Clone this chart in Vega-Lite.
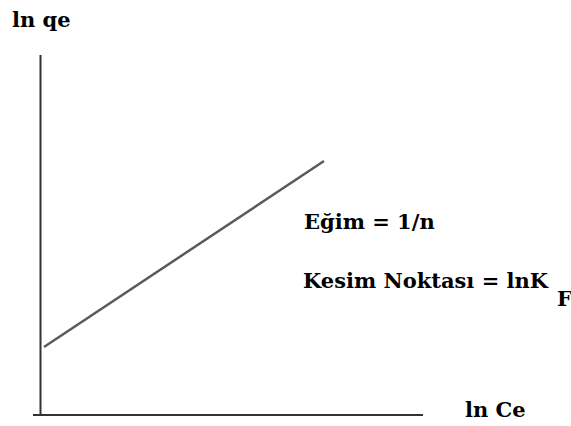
{
  "$schema": "https://vega.github.io/schema/vega-lite/v6.json",
  "width": 571,
  "height": 426,
  "autosize": {"type": "none"},
  "padding": 0,
  "background": "#ffffff",
  "config": {"view": {"stroke": null}},
  "datasets": {
    "segments": [
      {"part": "y axis", "x": 0.01, "y": 0, "x2": 0.01, "y2": 7.2, "color": "#333333", "width": 2},
      {"part": "x axis", "x": -0.14, "y": 0, "x2": 7.66, "y2": 0, "color": "#333333", "width": 2},
      {"part": "fit", "x": 0.08, "y": 1.36, "x2": 5.68, "y2": 5.08, "color": "#5a5a5a", "width": 2.5}
    ],
    "labels": [
      {"text": "ln qe", "x": -0.56, "y": 7.76},
      {"text": "Eğim = 1/n", "x": 5.28, "y": 3.72},
      {"text": "Kesim Noktası = lnK", "x": 5.26, "y": 2.54},
      {"text": "F", "x": 10.34, "y": 2.18},
      {"text": "ln Ce", "x": 8.5, "y": -0.04}
    ]
  },
  "layer": [
    {
      "data": {"name": "segments"},
      "mark": {"type": "rule", "strokeCap": "butt"},
      "encoding": {
        "x": {"field": "x", "type": "quantitative", "scale": {"domain": [-0.8, 10.62], "nice": false, "zero": false}, "axis": null},
        "x2": {"field": "x2"},
        "y": {"field": "y", "type": "quantitative", "scale": {"domain": [-0.22, 8.3], "nice": false, "zero": false}, "axis": null},
        "y2": {"field": "y2"},
        "color": {"field": "color", "type": "nominal", "scale": null, "legend": null},
        "strokeWidth": {"field": "width", "type": "quantitative", "scale": null, "legend": null}
      }
    },
    {
      "data": {"name": "labels"},
      "mark": {"type": "text", "align": "left", "baseline": "alphabetic", "font": "DejaVu Serif", "fontWeight": "bold", "fontSize": 21, "color": "#000000"},
      "encoding": {
        "x": {"field": "x", "type": "quantitative"},
        "y": {"field": "y", "type": "quantitative"},
        "text": {"field": "text", "type": "nominal"}
      }
    }
  ]
}
